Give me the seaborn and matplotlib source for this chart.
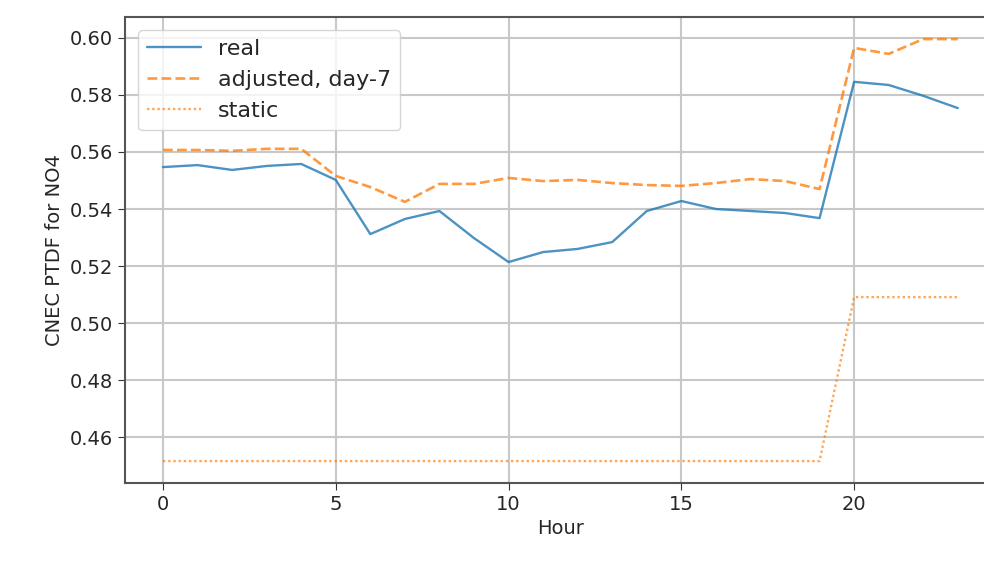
import numpy as np
import pandas as pd
import matplotlib
matplotlib.use("Agg")
import matplotlib.pyplot as plt
import seaborn as sns

hours = list(range(24))
real = [0.5547, 0.5554, 0.5537, 0.5551, 0.5558, 0.5502, 0.5312, 0.5365,
        0.5393, 0.5298, 0.5214, 0.5249, 0.5260, 0.5284, 0.5393, 0.5428,
        0.5400, 0.5393, 0.5386, 0.5368, 0.5846, 0.5835, 0.5797, 0.5754]
adjusted = [0.5607, 0.5607, 0.5604, 0.5611, 0.5611, 0.5516, 0.5477, 0.5425,
            0.5488, 0.5488, 0.5509, 0.5498, 0.5502, 0.5491, 0.5484, 0.5481,
            0.5491, 0.5505, 0.5498, 0.5470, 0.5965, 0.5944, 0.5996, 0.5996]
static = [0.4516] * 20 + [0.5091] * 4

df = pd.DataFrame({"Hour": hours, "real": real,
                   "adjusted, day-7": adjusted, "static": static})

sns.set_style("ticks")
plt.rcParams["font.family"] = ["DejaVu Sans"]

fig = plt.figure(figsize=(9.84, 5.61), dpi=100)
ax = fig.add_axes([0.127, 0.139, 0.885, 0.831])

blue = "#1f77b4"
orange = "#ff7f0e"
sns.lineplot(data=df, x="Hour", y="real", ax=ax, color=blue, lw=1.7,
             alpha=0.8, label="real")
sns.lineplot(data=df, x="Hour", y="adjusted, day-7", ax=ax, color=orange,
             lw=1.9, ls="--", alpha=0.8, label="adjusted, day-7")
sns.lineplot(data=df, x="Hour", y="static", ax=ax, color=orange, lw=1.7,
             ls=(0, (1, 1.2)), alpha=0.7, label="static")

ax.set_xlim(-1.1, 24.1)
ax.set_ylim(0.4439, 0.6074)
ax.set_xticks([0, 5, 10, 15, 20])
ax.set_yticks([0.46, 0.48, 0.50, 0.52, 0.54, 0.56, 0.58, 0.60])
ax.set_yticklabels([f"{v:.2f}" for v in ax.get_yticks()])
ax.grid(True, color="#c8c8c8", lw=1.5)
ax.tick_params(labelsize=14, length=5, color="#333333")
ax.set_xlabel("Hour", fontsize=14)
ax.set_ylabel("CNEC PTDF for NO4", fontsize=14)
for s in ax.spines.values():
    s.set_color("#555555")
    s.set_linewidth(1.5)
ax.spines["right"].set_visible(False)
ax.legend(loc="upper left", fontsize=16, framealpha=0.8, handlelength=2.4,
          borderaxespad=0.6)

fig.savefig("out.png", dpi=100)
